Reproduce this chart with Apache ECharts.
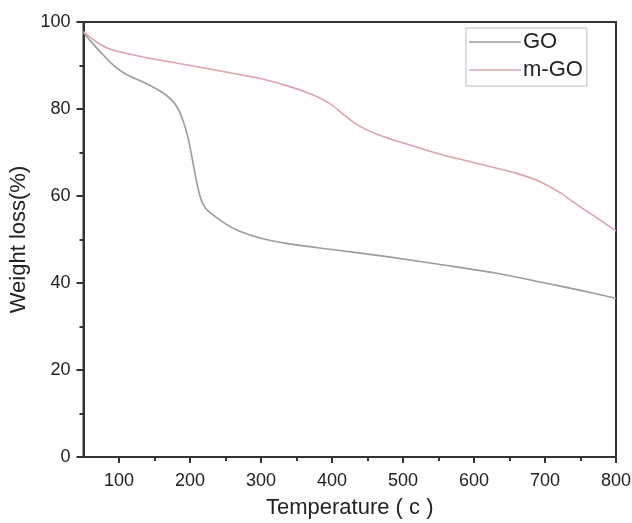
<!DOCTYPE html>
<html>
<head>
<meta charset="utf-8">
<script src="https://cdn.jsdelivr.net/npm/echarts@6/dist/echarts.min.js"></script>
<style>
  html, body { margin: 0; padding: 0; background: #fff; }
  #chart { width: 632px; height: 523px; }
</style>
</head>
<body>
<div id="chart"></div>
<script>
// TGA curves: temperature (°C) vs remaining weight (%)
const seriesNames = ['GO', 'm-GO'];

const goCurve = [
  [50, 97.6], [60, 95.6], [75, 92.9], [92, 90.1], [110, 88.0], [139, 85.8],
  [160, 83.9], [172, 82.4], [182, 80.4], [190, 77.4], [196, 74.2], [201, 70.5],
  [206, 66.0], [211, 62.0], [216, 59.0], [222, 57.2], [232, 55.7], [250, 53.6],
  [270, 51.9], [300, 50.3], [340, 49.0], [400, 47.7], [480, 46.0], [550, 44.3],
  [630, 42.3], [700, 40.0], [750, 38.3], [800, 36.5]
];

const mgoCurve = [
  [50, 97.8], [60, 96.4], [75, 94.7], [87, 93.8], [110, 92.8], [139, 91.8],
  [210, 89.7], [260, 88.2], [299, 87.0], [331, 85.6], [360, 84.1], [379, 82.8],
  [400, 80.9], [415, 78.9], [430, 77.0], [449, 75.2], [470, 73.8], [496, 72.4],
  [530, 70.7], [566, 69.0], [622, 66.8], [660, 65.2], [693, 63.3], [720, 60.9],
  [740, 58.6], [770, 55.3], [800, 52.0]
];

const xMajorTicks = [100, 200, 300, 400, 500, 600, 700, 800];
const xMinorTicks = [150, 250, 350, 450, 550, 650, 750];

const goColor = '#9c9c9c';
const mgoColor = '#dca3a9';
const axisColor = '#333';
const textColor = '#222';
const fontFamily = 'Liberation Sans, Arial, sans-serif';

const chart = echarts.init(document.getElementById('chart'));
chart.setOption({
  animation: false,
  backgroundColor: '#fff',
  grid: {
    left: 83.5, right: 16, top: 22, bottom: 66,
    containLabel: false, outerBoundsMode: 'none',
    show: true, borderColor: axisColor, borderWidth: 2, backgroundColor: 'transparent'
  },
  legend: {
    data: [
      { name: seriesNames[0], icon: 'rect', itemStyle: { color: goColor } },
      { name: seriesNames[1], icon: 'rect', itemStyle: { color: mgoColor } }
    ],
    orient: 'vertical',
    left: 466, top: 28,
    padding: [3, 4, 5, 3],
    itemGap: 6,
    itemWidth: 52, itemHeight: 1.5,
    borderColor: '#bdbdbd', borderWidth: 1,
    textStyle: { fontSize: 22, lineHeight: 22, color: textColor, fontFamily: fontFamily, padding: [0, 0, 0, -3] }
  },
  xAxis: [{
    type: 'value', min: 50, max: 800, interval: 50,
    name: 'Temperature ( c )', nameLocation: 'middle', nameGap: 40,
    nameTextStyle: { fontSize: 22, color: textColor, fontFamily: fontFamily },
    axisLine: { show: true, onZero: false, lineStyle: { color: axisColor, width: 2 } },
    axisTick: { show: true, inside: false, length: 6, customValues: xMajorTicks, lineStyle: { color: axisColor, width: 2 } },
    axisLabel: { customValues: xMajorTicks, fontSize: 18, color: textColor, fontFamily: fontFamily, margin: 15 },
    splitLine: { show: false }
  }, {
    type: 'value', min: 50, max: 800, interval: 50, position: 'bottom',
    axisLine: { show: false },
    axisTick: { show: true, inside: false, length: 4, customValues: xMinorTicks, lineStyle: { color: axisColor, width: 2 } },
    axisLabel: { show: false },
    splitLine: { show: false }
  }],
  yAxis: {
    type: 'value', min: 0, max: 100, interval: 20,
    name: 'Weight loss(%)', nameLocation: 'middle', nameGap: 46,
    nameTextStyle: { fontSize: 22, color: textColor, fontFamily: fontFamily },
    axisLine: { show: true, onZero: false, lineStyle: { color: axisColor, width: 2 } },
    axisTick: { show: true, inside: false, length: 7, lineStyle: { color: axisColor, width: 2 } },
    minorTick: { show: true, splitNumber: 2, length: 4, lineStyle: { color: axisColor, width: 2 } },
    axisLabel: { fontSize: 18, color: textColor, fontFamily: fontFamily, margin: 13 },
    splitLine: { show: false }
  },
  series: [{
    name: seriesNames[0], type: 'line', data: goCurve, xAxisIndex: 0,
    showSymbol: false, symbol: 'none', smooth: 0.3,
    lineStyle: { color: goColor, width: 1.6 }, itemStyle: { color: goColor }
  }, {
    name: seriesNames[1], type: 'line', data: mgoCurve, xAxisIndex: 0,
    showSymbol: false, symbol: 'none', smooth: 0.3,
    lineStyle: { color: mgoColor, width: 1.6 }, itemStyle: { color: mgoColor }
  }]
});
</script>
</body>
</html>
